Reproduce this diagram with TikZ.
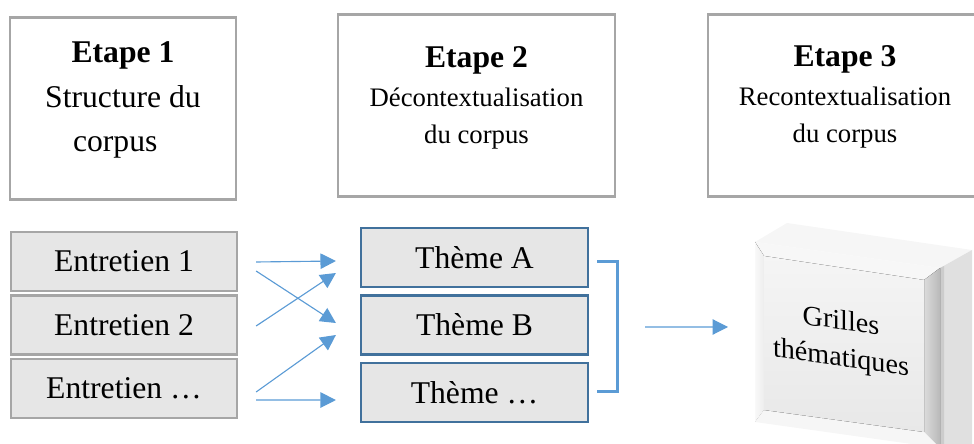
\documentclass[tikz,border=0pt]{standalone}
\usepackage{fontspec}
\setmainfont{Liberation Serif}
\usetikzlibrary{arrows.meta,calc,positioning}
\definecolor{lignegris}{HTML}{A6A6A6}
\definecolor{fondgris}{HTML}{E6E6E6}
\definecolor{bleufonce}{HTML}{41719C}
\definecolor{bleu}{HTML}{5B9BD5}
\begin{document}
\begin{tikzpicture}[x=0.025cm,y=-0.025cm,>={Triangle[length=11pt,width=11pt]},
    etape/.style={draw=lignegris,line width=1.5pt,minimum height=4.55cm},
    titre/.style={anchor=north,align=center,inner sep=0pt},
    entretien/.style={draw=lignegris,fill=fondgris,line width=1.5pt,minimum width=5.65cm,
        minimum height=1.475cm,font=\fontsize{22.5}{27}\selectfont},
    theme/.style={entretien,draw=bleufonce,minimum width=5.675cm,node distance=1.6875cm},
    arr/.style={->,draw=bleu,line width=0.8pt},
    crochet/.style={draw=bleu,line width=2.2pt}]
    \useasboundingbox (0,0) rectangle (974,444);

    \node[etape,minimum width=5.65cm]      (e1)  at (123,108.5) {};
    \node[etape,minimum width=6.925cm]     (e2)  at (476.5,105.5) {};
    \node[etape,minimum width=6.95cm]      (e3)  at (847,105.5) {};
    \node[titre,font=\fontsize{22.5}{31.7}\selectfont] (t1) at (123,41.6)
        {\textbf{Etape 1}\\Structure du\\corpus\hspace*{11pt}};
    \node[titre,font=\fontsize{19}{26}\selectfont]     (t2) at (476.5,46.4)
        {{\fontsize{22.5}{26}\selectfont\bfseries Etape 2}\\[2pt]D\'econtextualisation\\du corpus};
    \node[titre,font=\fontsize{19}{26}\selectfont]     (t3) at (845,45.4)
        {{\fontsize{22.5}{26}\selectfont\bfseries Etape 3}\\[2pt]Recontextualisation\\du corpus};

    \node[entretien]                       (en1) at (124,261.5) {Entretien 1};
    \node[entretien,node distance=1.5875cm] (en2) [below of=en1] {Entretien 2};
    \node[entretien,node distance=1.5875cm] (en3) [below of=en2] {Entretien \dots};

    \node[theme]                           (thA) at (474.5,257.5) {Th\`eme A};
    \node[theme]                           (thB) [below of=thA] {Th\`eme B};
    \node[theme]                           (thZ) [below of=thB] {Th\`eme \dots};

    \draw[arr] ($(en1.east)+(18,0.5)$)  -- ($(thA.west)+(-24,3.5)$);
    \draw[arr] ($(en1.east)+(18,9.5)$)  -- ($(thB.west)+(-24,-2)$);
    \draw[arr] ($(en2.east)+(18,1)$)    -- ($(thA.west)+(-24,15.5)$);
    \draw[arr] ($(en3.east)+(18,3.5)$)  -- ($(thB.west)+(-24,10)$);
    \draw[arr] ($(en3.east)+(18,11.5)$) -- ($(thZ.west)+(-24,7.5)$);

    \draw[crochet] ($(thA.east)+(8,4)$) -| ($(thZ.east)+(28,-1)$) -- ($(thZ.east)+(8,-1)$);

    % boite en relief
    \fill[gray!7]  (755,242) -- (787,223) -- (972,250) -- (940,268) -- cycle;
    \fill[gray!24] (940,268) -- (972,250) -- (972,460) -- (940,470) -- cycle;
    \fill[gray!40] (940,268) -- (944,266) -- (944,468) -- (940,470) -- cycle;
    \fill[gray!6]  (755,242) -- (940,268) -- (924,280) -- (764,256) -- cycle;
    \fill[left color=gray!28,right color=gray!55] (940,268) -- (940,460) -- (924,440) -- (924,280) -- cycle;
    \fill[left color=gray!5,right color=gray!14] (755,242) -- (764,256) -- (764,410) -- (755,422) -- cycle;
    \fill[gray!7]  (755,422) -- (764,410) -- (924,432) -- (940,448) -- cycle;
    \fill[top color=gray!8,bottom color=gray!18] (764,256) -- (924,280) -- (924,432) -- (764,410) -- cycle;
    \coordinate (gl) at (755,327);
    \node[yslant=-0.14,align=center,font=\fontsize{20}{26}\selectfont] (grille) at (841,341)
        {Grilles\\th\'ematiques};

    \draw[arr] ($(thB.east)+(56,2)$) -- ($(gl)+(-27,0)$);
\end{tikzpicture}
\end{document}
